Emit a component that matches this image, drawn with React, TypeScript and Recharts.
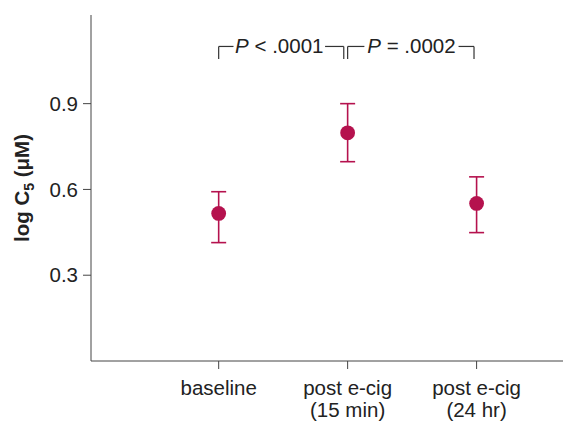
import React from 'react';
import {
  ScatterChart,
  Scatter,
  XAxis,
  YAxis,
  ErrorBar,
  ReferenceLine,
  ReferenceDot,
} from 'recharts';

const categories: string[][] = [['baseline'], ['post e-cig', '(15 min)'], ['post e-cig', '(24 hr)']];
const positions = [1, 2, 3];
const means = [0.516, 0.798, 0.551];
const errLow = [0.102, 0.101, 0.102];
const errHigh = [0.076, 0.102, 0.093];
const yTicks = [0.3, 0.6, 0.9];

// comparison brackets: span of the bracket, gap left for the text, label
const brackets: { from: number; to: number; t0: number; t1: number; sign: string; value: string }[] = [
  { from: 1, to: 1.97, t0: 1.115, t1: 1.825, sign: '<', value: '.0001' },
  { from: 2, to: 2.98, t0: 2.13, t1: 2.86, sign: '=', value: '.0002' },
];
const bracketTop = 1.1;
const bracketFoot = 1.056;

const COLOR = '#b5124e';
const INK = '#222';
const FONT = '"Liberation Sans", Arial, sans-serif';
const FS = 20.5;

const data = positions.map((x, i) => ({ x, y: means[i], err: [errLow[i], errHigh[i]] }));

const Dot = (props: any) => <circle cx={props.cx} cy={props.cy} r={7.4} fill={COLOR} />;

const XTick = (props: any) => {
  const { x, y, payload } = props;
  const lines = categories[payload.value - 1] || [];
  return (
    <g>
      {lines.map((line, i) => (
        <text key={i} x={x} y={y + 24 + i * 22} textAnchor="middle" fontSize={FS} fill={INK} fontFamily={FONT}>
          {line}
        </text>
      ))}
    </g>
  );
};

const YLabel = (props: any) => {
  const { viewBox } = props;
  const cx = viewBox.x + 29;
  const cy = viewBox.y + viewBox.height / 2;
  return (
    <text
      x={cx}
      y={cy}
      transform={`rotate(-90, ${cx}, ${cy})`}
      textAnchor="middle"
      fontSize={20.5}
      fontWeight="bold"
      fill={INK}
      fontFamily={FONT}
    >
      <tspan>log C</tspan>
      <tspan dy={5} fontSize={14}>5</tspan>
      <tspan dy={-5}> (μM)</tspan>
    </text>
  );
};

export default function App() {
  return (
    <div style={{ position: 'absolute', left: 0, top: 0, background: '#fff' }}>
      <ScatterChart width={564} height={424} margin={{ top: 15, right: 1, bottom: 0, left: 0 }}>
        <XAxis
          type="number"
          dataKey="x"
          domain={[0.01, 3.67]}
          ticks={positions}
          tick={<XTick />}
          tickSize={8}
          height={63}
          stroke="#444"
          tickLine={{ stroke: '#444' }}
          allowDataOverflow
        />
        <YAxis
          type="number"
          dataKey="y"
          domain={[0, 1.21]}
          ticks={yTicks}
          tickFormatter={(v: number) => v.toFixed(1)}
          tickSize={8}
          tickMargin={5}
          width={91}
          stroke="#444"
          tick={{ fill: INK, fontSize: FS, fontFamily: FONT }}
          label={{ content: <YLabel /> }}
          allowDataOverflow
        />
        {brackets.map((b, i) => (
          <React.Fragment key={i}>
            <ReferenceLine segment={[{ x: b.from, y: bracketFoot }, { x: b.from, y: bracketTop }]} stroke="#333" strokeWidth={1.2} />
            <ReferenceLine segment={[{ x: b.from, y: bracketTop }, { x: b.t0, y: bracketTop }]} stroke="#333" strokeWidth={1.2} />
            <ReferenceLine segment={[{ x: b.t1, y: bracketTop }, { x: b.to, y: bracketTop }]} stroke="#333" strokeWidth={1.2} />
            <ReferenceLine segment={[{ x: b.to, y: bracketTop }, { x: b.to, y: bracketFoot }]} stroke="#333" strokeWidth={1.2} />
            <ReferenceDot
              x={(b.t0 + b.t1) / 2}
              y={bracketTop}
              r={0}
              fill="none"
              stroke="none"
              label={{
                content: (p: any) => {
                  const vb = p.viewBox;
                  return (
                    <text x={vb.x + vb.width / 2} y={vb.y + vb.height / 2 + 7} textAnchor="middle" fontSize={FS} fill={INK} fontFamily={FONT}>
                      <tspan fontStyle="italic">P</tspan>
                      <tspan>{` ${b.sign} ${b.value}`}</tspan>
                    </text>
                  );
                },
              }}
            />
          </React.Fragment>
        ))}
        <Scatter data={data} shape={<Dot />} isAnimationActive={false}>
          <ErrorBar dataKey="err" direction="y" width={7.5} stroke={COLOR} strokeWidth={1.6} />
        </Scatter>
      </ScatterChart>
    </div>
  );
}
